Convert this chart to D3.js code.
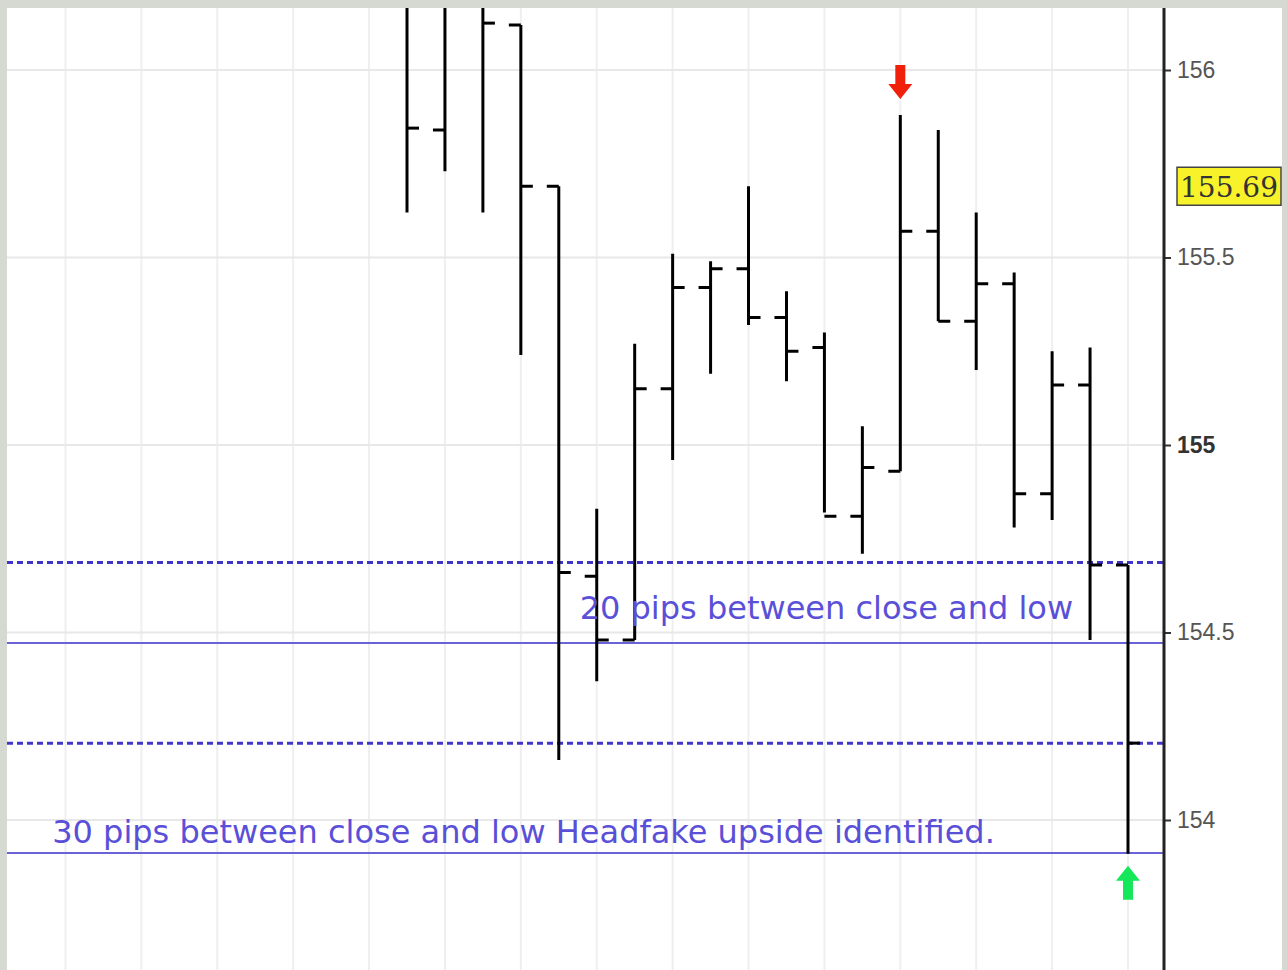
<!DOCTYPE html>
<html>
<head>
<meta charset="utf-8">
<script src="https://cdn.jsdelivr.net/npm/d3@7"></script>
<style>
  body { margin: 0; background: #fff; }
  svg { display: block; }
</style>
</head>
<body>
<svg></svg>
<script>
// bar slots (index), OHLC
var slots  = [0, 1, 2, 3, 4, 5, 6, 7, 8, 9, 10, 11, 12, 13, 14, 15, 16, 17, 18, 19];
var opens  = [156.24, 155.84, 156.22, 156.12, 155.69, 154.65, 154.48, 155.15, 155.42, 155.47, 155.34, 155.26, 154.81, 154.93, 155.57, 155.33, 155.43, 154.87, 155.16, 154.68];
var highs  = [156.30, 156.28, 156.26, 156.12, 155.69, 154.83, 155.27, 155.51, 155.49, 155.69, 155.41, 155.30, 155.05, 155.88, 155.84, 155.62, 155.46, 155.25, 155.26, 154.68];
var lows   = [155.62, 155.73, 155.62, 155.24, 154.16, 154.37, 154.48, 154.96, 155.19, 155.32, 155.17, 154.82, 154.71, 154.93, 155.33, 155.20, 154.78, 154.80, 154.48, 153.91];
var closes = [155.845, 156.20, 156.125, 155.69, 154.66, 154.48, 155.15, 155.42, 155.47, 155.34, 155.25, 154.81, 154.94, 155.57, 155.33, 155.43, 154.87, 155.16, 154.68, 154.205];

var yTicks = [154, 154.5, 155, 155.5, 156];
var lastPrice = 155.69;

// annotation levels
var dottedLevels = [154.687, 154.205];
var solidLevels  = [154.472, 153.912];
var notes = [
  { slot: 4.55, price: 154.535, text: "20 pips between close and low" },
  { slot: -9.35, price: 153.94, text: "30 pips between close and low Headfake upside identified." }
];

var W = 1287, H = 970;
var padL = 7, padT = 8, padR = 5, axisX = 1164;

var x = d3.scaleLinear().domain([0, 19]).range([407, 1128]);
var y = d3.scaleLinear().domain([154, 156]).range([820, 70]);

var svg = d3.select("svg").attr("width", W).attr("height", H);

svg.append("rect").attr("width", W).attr("height", H).attr("fill", "#d6d8d2");
svg.append("rect").attr("x", padL).attr("y", padT)
    .attr("width", W - padR - padL).attr("height", H - padT).attr("fill", "#fff");

svg.append("clipPath").attr("id", "plot")
  .append("rect").attr("x", padL).attr("y", padT).attr("width", axisX - padL).attr("height", H - padT);

var g = svg.append("g").attr("clip-path", "url(#plot)");

// grid
var gridX = d3.range(-9, 20, 2);
g.selectAll(".vgrid").data(gridX).enter().append("line")
    .attr("x1", function(d) { return x(d); })
    .attr("x2", function(d) { return x(d); })
    .attr("y1", padT).attr("y2", H)
    .style("stroke", "#efefef").style("stroke-width", 2);

g.selectAll(".hgrid").data(yTicks).enter().append("line")
    .attr("x1", padL).attr("x2", axisX)
    .attr("y1", function(d) { return y(d); })
    .attr("y2", function(d) { return y(d); })
    .style("stroke", "#e8e8e8").style("stroke-width", 2);

// annotation lines
g.selectAll(".dotted").data(dottedLevels).enter().append("line")
    .attr("x1", padL).attr("x2", axisX)
    .attr("y1", function(d) { return y(d); })
    .attr("y2", function(d) { return y(d); })
    .style("stroke", "#3f36c8").style("stroke-width", 3)
    .style("stroke-dasharray", "6,4");

g.selectAll(".solid").data(solidLevels).enter().append("line")
    .attr("x1", padL).attr("x2", axisX)
    .attr("y1", function(d) { return y(d); })
    .attr("y2", function(d) { return y(d); })
    .style("stroke", "#6a62d6").style("stroke-width", 2);

// OHLC bars
var tick = 12;
var bars = g.selectAll(".bar").data(slots).enter().append("g");
bars.append("line")
    .attr("x1", function(i) { return x(i); })
    .attr("x2", function(i) { return x(i); })
    .attr("y1", function(i) { return y(highs[i]); })
    .attr("y2", function(i) { return y(lows[i]); })
    .style("stroke", "#000").style("stroke-width", 3);
bars.append("line")
    .attr("x1", function(i) { return x(i) - tick; })
    .attr("x2", function(i) { return x(i); })
    .attr("y1", function(i) { return y(opens[i]); })
    .attr("y2", function(i) { return y(opens[i]); })
    .style("stroke", "#000").style("stroke-width", 3);
bars.append("line")
    .attr("x1", function(i) { return x(i); })
    .attr("x2", function(i) { return x(i) + tick; })
    .attr("y1", function(i) { return y(closes[i]); })
    .attr("y2", function(i) { return y(closes[i]); })
    .style("stroke", "#000").style("stroke-width", 3);

// notes
g.selectAll(".note").data(notes).enter().append("text")
    .attr("x", function(d) { return x(d.slot); })
    .attr("y", function(d) { return y(d.price); })
    .style("font-family", "'DejaVu Sans', sans-serif")
    .style("font-size", "32px")
    .style("fill", "#5a50d8")
    .text(function(d) { return d.text; });

// arrows: down above the high of bar 13, up below the low of bar 19
function arrow(cx, tipY, dir, color) {
  var p = [[-5, 0], [5, 0], [5, 19], [12, 19], [0, 34], [-12, 19], [-5, 19]];
  svg.append("path")
      .attr("d", d3.line()(p.map(function(q) { return [cx + q[0], tipY - dir * (34 - q[1])]; })) + "Z")
      .attr("fill", color);
}
arrow(x(13), y(highs[13]) - 16, 1, "#f0200a");
arrow(x(19), y(lows[19]) + 12, -1, "#14e85a");

// right axis
var axis = svg.append("g")
    .attr("transform", "translate(" + axisX + ",0)")
    .call(d3.axisRight(y).tickValues(yTicks).tickSize(7).tickPadding(6)
      .tickFormat(function(d) { return d3.format("")(d); }));
axis.select(".domain").remove();
axis.selectAll(".tick line").style("stroke", "#333").style("stroke-width", 2);
axis.selectAll("text")
    .style("font-family", "'Liberation Sans', Arial, sans-serif")
    .style("font-size", "23px")
    .style("font-weight", function(d) { return d === 155 ? "bold" : "normal"; })
    .style("fill", function(d) { return d === 155 ? "#333" : "#555"; });

svg.append("line")
    .attr("x1", axisX).attr("x2", axisX).attr("y1", padT).attr("y2", H)
    .style("stroke", "#222").style("stroke-width", 3);

// last price label
var ly = y(lastPrice);
svg.append("rect")
    .attr("x", 1177).attr("y", ly - 19).attr("width", 104).attr("height", 38)
    .attr("fill", "#f8f22a").attr("stroke", "#444").attr("stroke-width", 1.5);
svg.append("text")
    .attr("x", 1180).attr("y", ly + 11)
    .style("font-family", "'DejaVu Serif', serif")
    .style("font-size", "28px")
    .style("fill", "#333")
    .text(d3.format(".2f")(lastPrice));
</script>
</body>
</html>
